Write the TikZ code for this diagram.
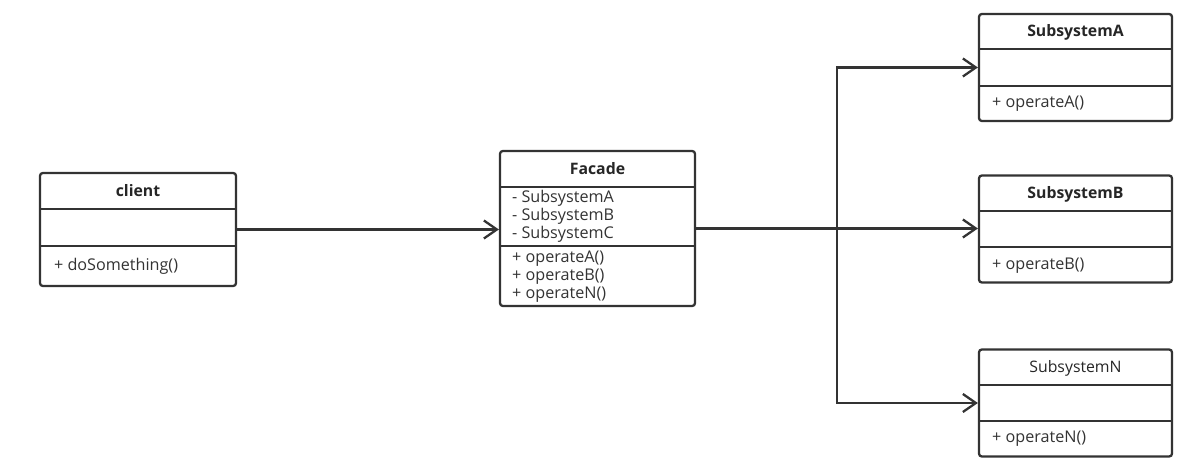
\documentclass[tikz,border=0pt]{standalone}
\usepackage{fontspec}
\setmainfont{Open Sans}
\usetikzlibrary{arrows.meta}

\begin{document}
\begin{tikzpicture}
    [x = 0.02cm, y = -0.02cm, line width = 1.3pt, draw = black!80,
     classbox/.style = {draw = black!80, rounded corners = 1.6pt, inner sep = 0pt},
     title/.style = {font = \fontsize{9}{10}\selectfont\bfseries, text = black!85},
     member/.style = {font = \fontsize{9.2}{10.3}\selectfont, text = black!80, align = left, anchor = west, inner sep = 0pt},
     dep/.style = {-{Straight Barb[length = 2.6mm, width = 3.6mm, line width = 1.3pt]}}]
    \useasboundingbox (0,0) rectangle (1197,472);
    % class boxes
    \node[classbox, minimum width = 3.92cm, minimum height = 2.26cm] (client) at (138,229.5) {};
    \node[classbox, minimum width = 3.9cm, minimum height = 3.1cm] (facade) at (597.5,228.5) {};
    \node[classbox, minimum width = 3.86cm, minimum height = 2.14cm] (subA) at (1075.5,67.5) {};
    \node[classbox, minimum width = 3.86cm, minimum height = 2.14cm] (subB) at (1075.5,229) {};
    \node[classbox, minimum width = 3.86cm, minimum height = 2.14cm] (subN) at (1075.5,403) {};
    % compartments
    \draw (40,209) -- (236,209);
    \draw (40,246) -- (236,246);
    \draw (500,187) -- (695,187);
    \draw (500,246) -- (695,246);
    \foreach \y in {49,86,211,247,385,421}
      \draw (979,\y) -- (1172,\y);
    % texts
    \node[title] (clientname) at (138,191) {client};
    \node[member] (clientops) at (53,266) {+ doSomething()};
    \node[title] (facadename) at (597.5,169) {Facade};
    \node[member] (facadeattr) at (511,216) {- SubsystemA\\- SubsystemB\\- SubsystemC};
    \node[member] (facadeops) at (511,277) {+ operateA()\\+ operateB()\\+ operateN()};
    \node[title] (subAname) at (1075.5,32) {SubsystemA};
    \node[member] (subAops) at (991,104) {+ operateA()};
    \node[title] (subBname) at (1075.5,194) {SubsystemB};
    \node[member] (subBops) at (991,266) {+ operateB()};
    \node[title, font = \fontsize{9}{10}\selectfont] (subNname) at (1075.5,368) {SubsystemN};
    \node[member] (subNops) at (991,439) {+ operateN()};
    % connectors
    \coordinate (split) at (837,228.5);
    \draw[dep] (client.east) -- (client.east -| facade.west);
    \draw[dep] (facade.east) -- (facade.east -| subB.west);
    \draw[dep] (split) |- (subA.west);
    \draw[dep] (split) |- (subN.west);
\end{tikzpicture}
\end{document}
